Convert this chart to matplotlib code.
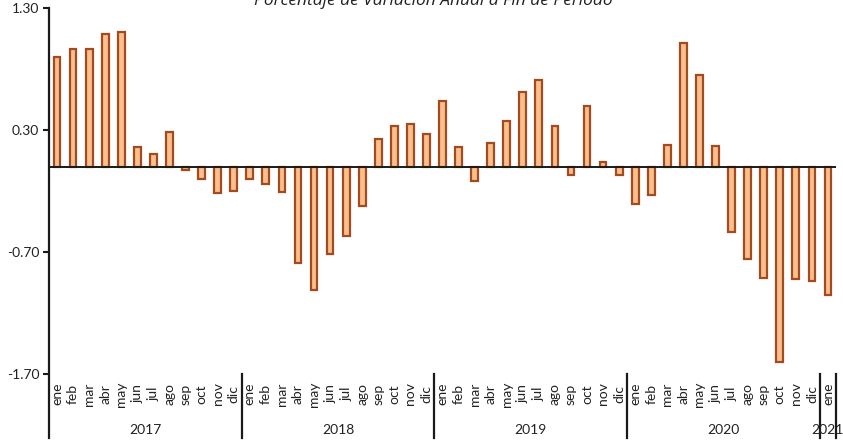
import numpy as np
import matplotlib.pyplot as plt
import matplotlib.transforms as mtransforms

# monthly values, ene 2017 .. ene 2021
months = ['ene', 'feb', 'mar', 'abr', 'may', 'jun', 'jul', 'ago', 'sep', 'oct', 'nov', 'dic'] * 4 + ['ene']
years = ['2017', '2018', '2019', '2020', '2021']
year_sizes = [12, 12, 12, 12, 1]

vals_2017 = [0.90, 0.96, 0.96, 1.09, 1.10, 0.16, 0.10, 0.28, -0.03, -0.10, -0.22, -0.20]
vals_2018 = [-0.10, -0.14, -0.21, -0.79, -1.01, -0.72, -0.57, -0.32, 0.23, 0.33, 0.35, 0.27]
vals_2019 = [0.54, 0.16, -0.12, 0.19, 0.37, 0.61, 0.71, 0.33, -0.07, 0.50, 0.04, -0.07]
vals_2020 = [-0.31, -0.23, 0.18, 1.01, 0.75, 0.17, -0.54, -0.76, -0.91, -1.60, -0.92, -0.94]
vals_2021 = [-1.05]

yticks = [-1.70, -0.70, 0.30, 1.30]
ytick_labels = ['-1.70', '-0.70', '0.30', '1.30']
title = 'Porcentaje de Variación Anual a Fin de Período'

values = np.array(vals_2017 + vals_2018 + vals_2019 + vals_2020 + vals_2021)
x = np.arange(len(values))

plt.rcParams['font.family'] = ['Lato', 'DejaVu Sans']

fig = plt.figure(figsize=(8.43, 4.43), dpi=100)
ax = fig.add_axes([49 / 843, 1 - 374 / 443, (836 - 49) / 843, 366 / 443])

ax.bar(x, values, width=0.42, color='#F9BF8D', edgecolor='#A34B1E', linewidth=1.6, zorder=2)
ax.axhline(0, color='#1a1a1a', lw=1.4, zorder=3)

ax.set_xlim(-0.5, len(values) - 0.5)
ax.set_ylim(-1.70, 1.30)
ax.set_yticks(yticks)
ax.set_yticklabels(ytick_labels, fontsize=10, color='#222222')
ax.tick_params(axis='y', direction='out', length=4, width=1.5, color='#1a1a1a', pad=3)
ax.set_xticks([])

for side in ['top', 'right', 'bottom', 'left']:
    ax.spines[side].set_visible(False)

trans = mtransforms.blended_transform_factory(ax.transData, ax.transAxes)
y_low = (374 - 438) / 366

# left axis line running down through the category labels
ax.plot([-0.5, -0.5], [1.0, y_low], transform=trans, color='#1a1a1a', lw=1.6, clip_on=False, zorder=4)

# month labels
for xi, m in zip(x, months):
    ax.text(xi, (374 - 394) / 366, m, transform=trans, rotation=90, ha='center', va='center',
            fontsize=10, color='#222222')

# year labels and separators
start = 0
for yr, n in zip(years, year_sizes):
    end = start + n
    ax.text((start + end - 1) / 2, (374 - 430) / 366, yr, transform=trans, ha='center', va='center',
            fontsize=10, color='#222222')
    ax.plot([end - 0.5, end - 0.5], [0, y_low], transform=trans, color='#1a1a1a', lw=1.6, clip_on=False)
    start = end

fig.text(433 / 843, 1 - 5 / 443, title, ha='center', va='baseline', fontsize=12.5,
         style='italic', family=['Open Sans', 'DejaVu Sans'], color='#222222')

fig.savefig('out.png', dpi=100)
